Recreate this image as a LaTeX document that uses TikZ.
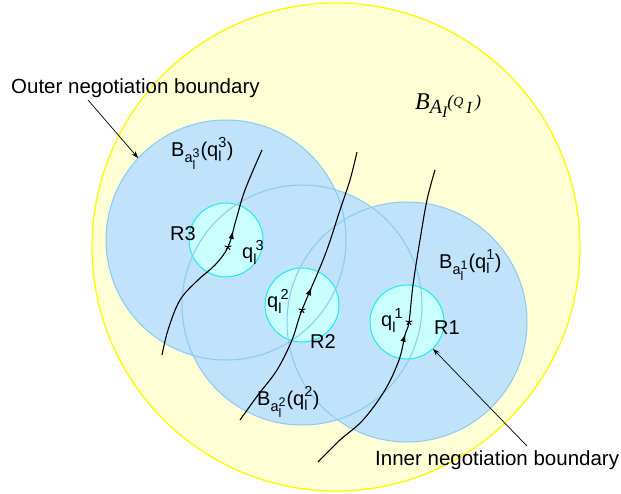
\documentclass[tikz,border=0pt]{standalone}
\usepackage{amsmath}
\usepackage{fontspec}
\setmainfont{Liberation Sans}
\newfontfamily\serifit{Liberation Serif}
\usetikzlibrary{arrows.meta,decorations.markings}
\DeclareMathSizes{20}{20}{14.5}{12.5}
\definecolor{yfill}{RGB}{255,255,213}
\definecolor{yline}{RGB}{255,250,0}
\definecolor{bfill}{RGB}{192,226,250}
\definecolor{bline}{RGB}{140,202,242}
\definecolor{cfill}{RGB}{201,255,255}
\definecolor{cline}{RGB}{30,235,240}
\newcommand{\tx}[1]{\text{#1}}
\newcommand{\Blab}[1]{$\tx{B}_{\tx{a}^{\tx{#1}}_{\tx{l}}}\tx{(q}^{\tx{#1}}_{\tx{l}}\tx{)}$}
\newcommand{\qlab}[1]{$\tx{q}^{\,\tx{#1}}_{\tx{l}}$}
\newcommand{\sif}[1]{\serifit\itshape\fontsize{#1}{#1}\selectfont}
\begin{document}
\begin{tikzpicture}[x=1pt,y=-1pt,
  lab/.style={font=\fontsize{20}{24}\selectfont, inner sep=0pt, anchor=base west},
  bigc/.style={circle, minimum size=240pt, inner sep=0pt, fill=bfill},
  bigline/.style={draw=bline, line width=1pt},
  smallc/.style={circle, minimum size=74pt, inner sep=0pt, fill=cfill, draw=cline, line width=1pt},
  traj/.style={line width=1.1pt, postaction={decorate},
    decoration={markings, mark=at position #1 with {\arrow{Latex[length=8pt,width=5.5pt]}}}},
  ptr/.style={line width=0.7pt, -{Stealth[length=7pt,width=5pt]}},
  spoke/.style={line width=1pt}
  ]
\useasboundingbox (0,0) rectangle (621,493);
% outer yellow region
\node[circle, minimum size=488pt, inner sep=0pt, fill=yfill, draw=yline, line width=1.3pt] (Y) at (336,247) {};
% blue regions
\node[bigc] (C3) at (226,240) {};
\node[bigc] (C2) at (302,305) {};
\node[bigc] (C1) at (407,322) {};
% cyan regions
\node[smallc] (R3c) at (226,240) {};
\node[smallc] (R2c) at (302,305) {};
\node[smallc] (R1c) at (407,322) {};
% outlines of blue regions on top
\draw[bigline] (C3.center) circle[radius=120pt];
\draw[bigline] (C2.center) circle[radius=120pt];
\draw[bigline] (C1.center) circle[radius=120pt];
% points q
\coordinate (q3) at (228,247);
\coordinate (q2) at (302,310);
\coordinate (q1) at (409,322);
% trajectories
\draw[traj=147pt] plot[smooth, tension=0.6] coordinates {(162,355) (168,330) (180,300) (198,280) (215,265) (q3) (236,220) (245,190) (262,150)};
\draw[traj=152pt] plot[smooth, tension=0.6] coordinates {(240,420) (258,395) (277,370) (292,340) (q2) (325,255) (340,210) (350,180) (357,152)};
\draw[traj=159pt] plot[smooth, tension=0.6] coordinates {(318,462) (340,440) (363,420) (385,390) (399,360) (405,335) (q1) (413,285) (420,240) (427,200) (435,170)};
\foreach \q in {q1,q2,q3}{
  \foreach \a in {90,162,234,306,18}{
    \draw[spoke] (\q) -- ++(\a:3.5pt);
  }
}
% labels
\node[lab] (L3) at (171,156) {\Blab{3}};
\node[lab] (L1) at (439,268) {\Blab{1}};
\node[lab] (L2) at (257,405) {\Blab{2}};
\node[lab] (R3) at (170,240) {R3};
\node[lab] (R2) at (310,348) {R2};
\node[lab] (R1) at (434,334) {R1};
\node[lab] (Q3) at (242,258) {\qlab{3}};
\node[lab] (Q2) at (267,307) {\qlab{2}};
\node[lab] (Q1) at (381,326) {\qlab{1}};
\node[inner sep=0pt, anchor=base west] (BA) at (415,109)
  {{\sif{24}B}\raisebox{-4pt}{\sif{20}A}\raisebox{-8pt}{\sif{16}I}\raisebox{2pt}{\sif{18}(}\raisebox{3pt}{\sif{14}Q}\raisebox{-4pt}{\sif{17}\,I}\raisebox{2pt}{\sif{18}\,)}};
\node[lab, font=\fontsize{20.5}{24}\selectfont] (outer) at (11,93) {Outer negotiation boundary};
\node[lab, font=\fontsize{20.5}{24}\selectfont] (inner) at (375,465) {Inner negotiation boundary};
\coordinate (o1) at (88,100);
\coordinate (i1) at (527,446);
\draw[ptr] (o1) -- (C3.137);
\draw[ptr] (i1) -- (R1c.-46);
\end{tikzpicture}
\end{document}
